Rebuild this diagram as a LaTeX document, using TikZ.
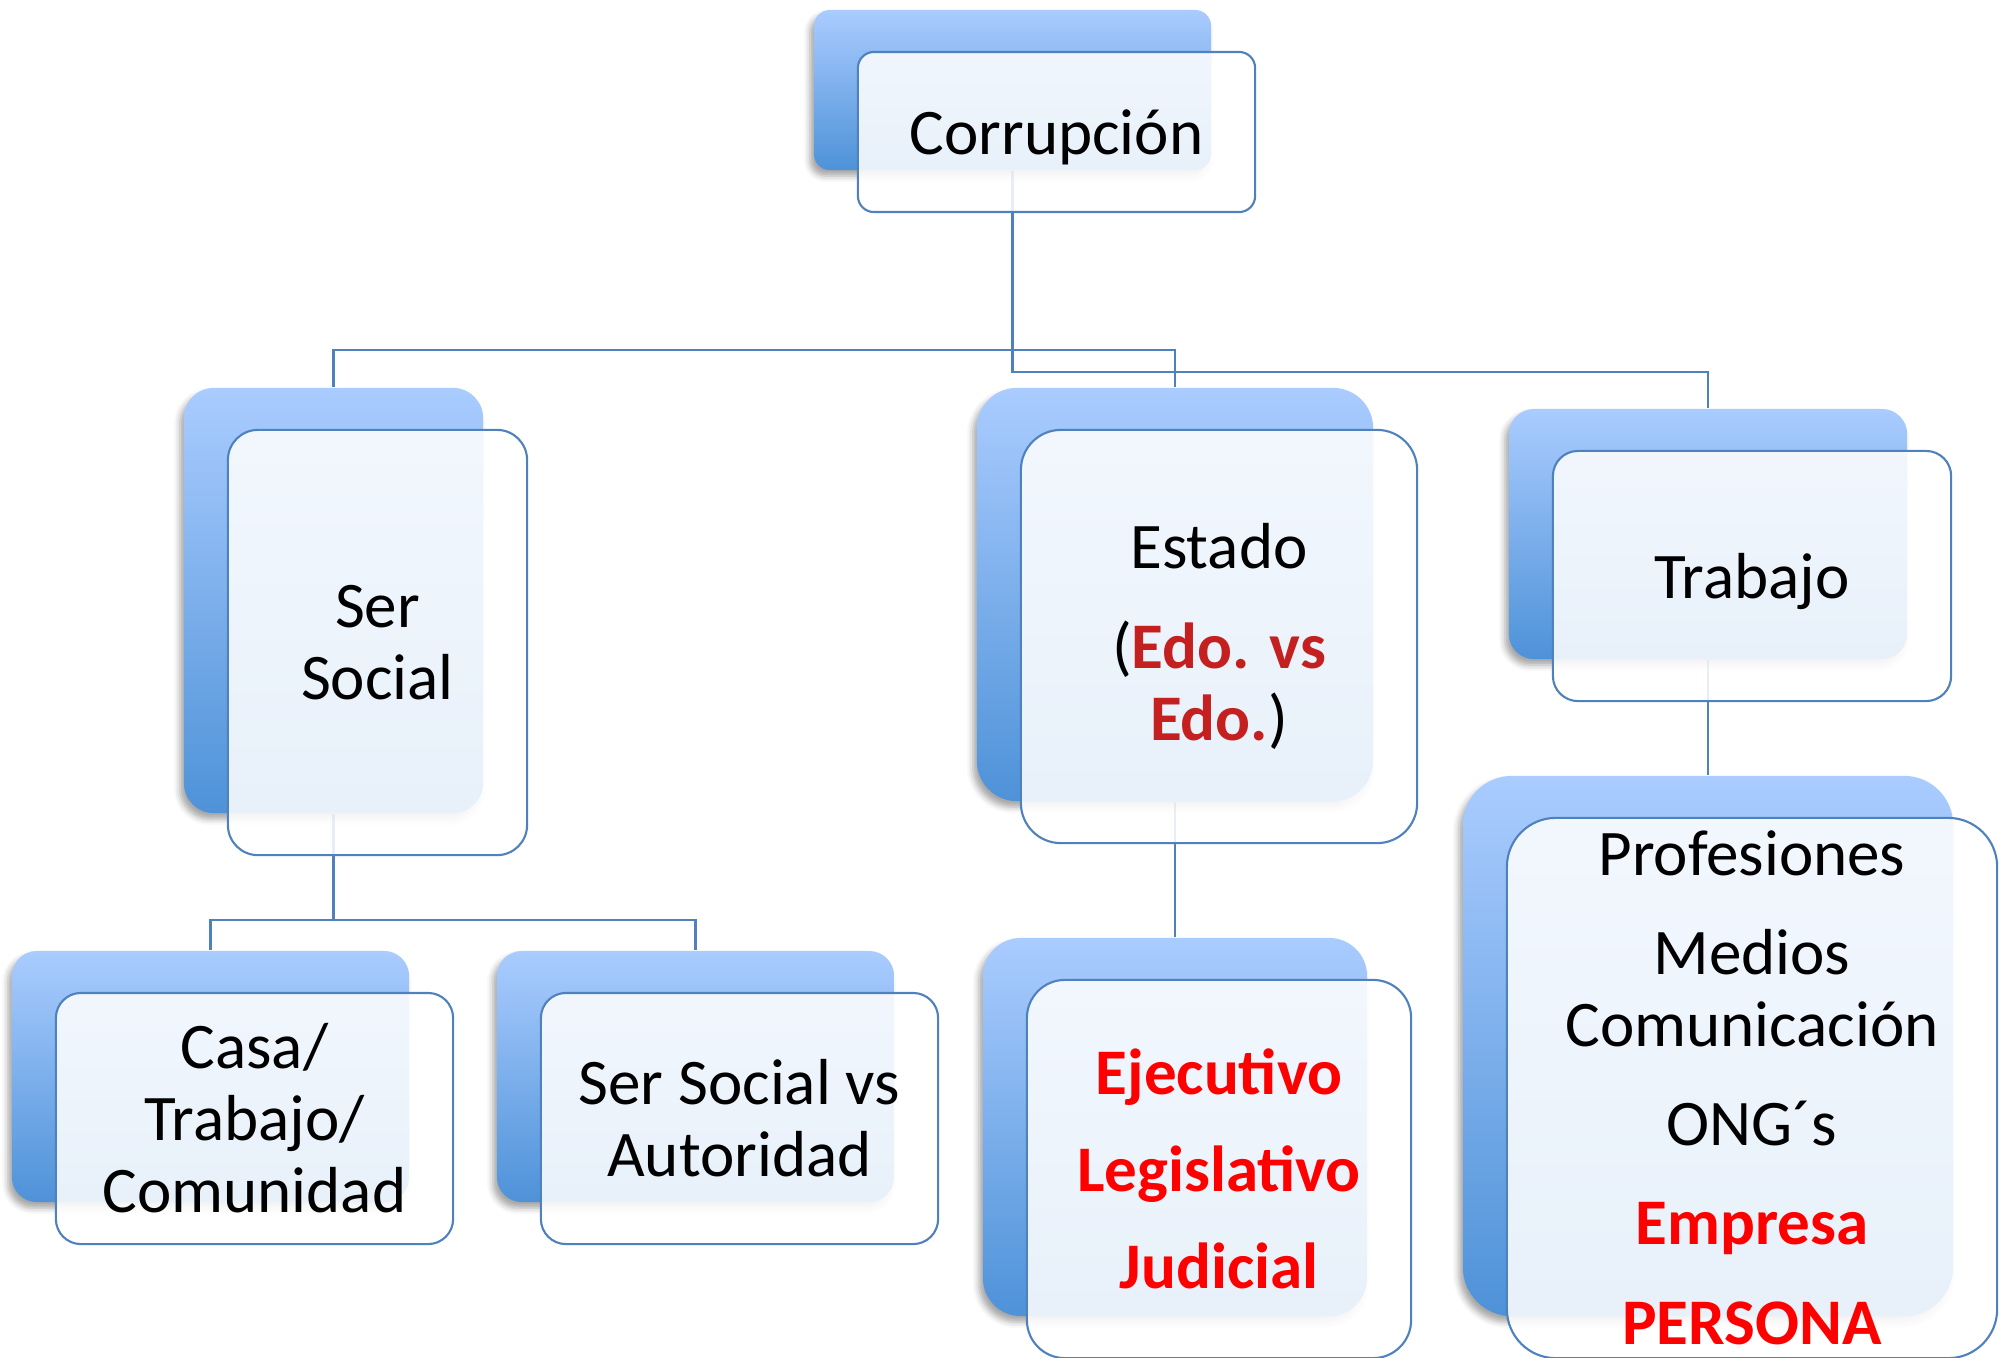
\documentclass[tikz,border=0pt]{standalone}
\usepackage{fontspec}
\setmainfont{Carlito}
\usepackage{xcolor}
\usetikzlibrary{positioning, backgrounds, shadows.blur}

\definecolor{linkblue}{RGB}{79,129,189}
\definecolor{backtop}{RGB}{170,204,255}
\definecolor{backbot}{RGB}{78,146,216}
\definecolor{edored}{RGB}{196,32,32}

\begin{document}
\begin{tikzpicture}[
  x=0.01cm, y=-0.01cm,
  every node/.style={font=\fontsize{18.5}{20.5}\selectfont},
  back/.style={rectangle, draw=none, top color=backtop, bottom color=backbot,
               blur shadow={shadow xshift=-0.4mm, shadow yshift=-0.6mm,
                            shadow blur radius=0.6mm, shadow opacity=35}},
  front/.style={rectangle, draw=linkblue, line width=0.6pt, fill=white,
                fill opacity=0.87, text opacity=1, align=center, inner sep=0pt},
  boxsize/.style n args={3}{minimum width=#1, minimum height=#2, rounded corners=#3},
  hot/.style={text=red, font=\fontsize{18.5}{20.5}\selectfont\bfseries},
  link/.style={draw=linkblue, line width=0.6pt}
]
  \useasboundingbox (0,0) rectangle (2007,1357);

  % ── Root ──────────────────────────────────────────────────────
  \node[back, boxsize={3.97cm}{1.60cm}{0.16cm}] (corr_b) at (1012.5,90) {};
  \node[front, text depth=0pt, boxsize={3.97cm}{1.60cm}{0.16cm}] (corr)
        at ([shift={(44,42)}]corr_b.center) {Corrupción};

  % ── Second level ──────────────────────────────────────────────
  \node[back, boxsize={2.99cm}{4.25cm}{0.30cm}] (ser_b) at (333.5,600.5) {};
  \node[front, boxsize={2.99cm}{4.25cm}{0.30cm}] (ser)
        at ([shift={(44,42)}]ser_b.center) {Ser\\Social};

  \node[back, boxsize={3.96cm}{4.13cm}{0.40cm}] (edo_b) at (1175,594.5) {};
  \node[front, boxsize={3.96cm}{4.13cm}{0.40cm}] (edo)
        at ([shift={(44,42)}]edo_b.center)
        {Estado\\[0.28cm]({\bfseries\color{edored}Edo. vs}\\{\bfseries\color{edored}Edo.})};

  \node[back, boxsize={3.98cm}{2.50cm}{0.25cm}] (trab_b) at (1708,534) {};
  \node[front, text depth=0pt, boxsize={3.98cm}{2.50cm}{0.25cm}] (trab)
        at ([shift={(44,42)}]trab_b.center) {Trabajo};

  % ── Third level ───────────────────────────────────────────────
  \node[back, boxsize={3.97cm}{2.51cm}{0.25cm}] (casa_b) at (210.5,1076.5) {};
  \node[front, boxsize={3.97cm}{2.51cm}{0.25cm}] (casa)
        at ([shift={(44,42)}]casa_b.center) {Casa/\\Trabajo/\\Comunidad};

  \node[back, boxsize={3.97cm}{2.51cm}{0.25cm}] (auto_b) at (695.5,1076.5) {};
  \node[front, boxsize={3.97cm}{2.51cm}{0.25cm}] (auto)
        at ([shift={(44,42)}]auto_b.center) {Ser Social vs\\Autoridad};

  \node[back, boxsize={3.84cm}{3.78cm}{0.38cm}] (pod_b) at (1175,1127) {};
  \node[front, hot, boxsize={3.84cm}{3.78cm}{0.38cm}] (pod)
        at ([shift={(44,42)}]pod_b.center)
        {Ejecutivo\\[0.25cm]Legislativo\\[0.25cm]Judicial};

  \node[back, boxsize={4.90cm}{5.40cm}{0.49cm}] (prof_b) at (1708,1046) {};
  \node[front, boxsize={4.90cm}{5.40cm}{0.49cm}] (prof)
        at ([shift={(44,42)}]prof_b.center)
        {Profesiones\\[0.27cm]Medios\\Comunicación\\[0.27cm]ONG´s\\[0.27cm]%
         {\bfseries\color{red}Empresa}\\[0.28cm]{\bfseries\color{red}PERSONA}};

  % ── Connectors (behind the boxes) ─────────────────────────────
  \begin{scope}[on background layer]
    \draw[link] (corr_b.south) -- ++(0,201) -| (trab_b.north);
    \draw[link] (ser_b.north) -- ++(0,-37) -| (edo_b.north);
    \foreach \kid in {casa_b, auto_b}
      \draw[link] (ser_b.south) -- ++(0,106) -| (\kid.north);
    \draw[link] (edo_b.south) -- (pod_b.north);
    \draw[link] (trab_b.south) -- (prof_b.north);
  \end{scope}

\end{tikzpicture}
\end{document}
